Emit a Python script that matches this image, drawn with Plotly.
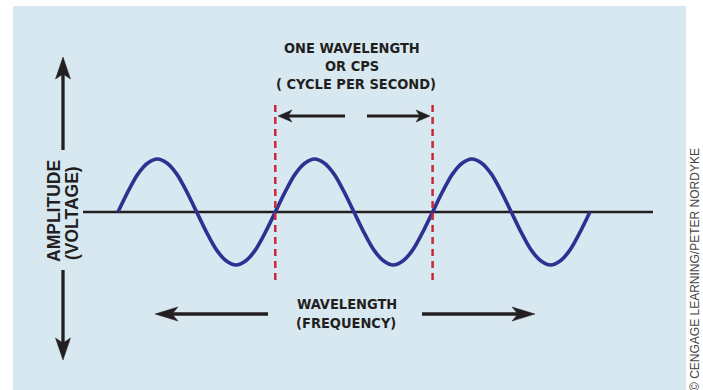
import plotly.graph_objects as go

# wave: phase in cycles, amplitude normalised to the peak
WAVE_X = [0, 0.0625, 0.125, 0.1875, 0.25, 0.3125, 0.375, 0.4375,
          0.5, 0.5625, 0.625, 0.6875, 0.75, 0.8125, 0.875, 0.9375,
          1, 1.0625, 1.125, 1.1875, 1.25, 1.3125, 1.375, 1.4375,
          1.5, 1.5625, 1.625, 1.6875, 1.75, 1.8125, 1.875, 1.9375,
          2, 2.0625, 2.125, 2.1875, 2.25, 2.3125, 2.375, 2.4375,
          2.5, 2.5625, 2.625, 2.6875, 2.75, 2.8125, 2.875, 2.9375, 3]
WAVE_Y = [0, 0.38, 0.71, 0.92, 1, 0.92, 0.71, 0.38,
          0, -0.38, -0.71, -0.92, -1, -0.92, -0.71, -0.38,
          0, 0.38, 0.71, 0.92, 1, 0.92, 0.71, 0.38,
          0, -0.38, -0.71, -0.92, -1, -0.92, -0.71, -0.38,
          0, 0.38, 0.71, 0.92, 1, 0.92, 0.71, 0.38,
          0, -0.38, -0.71, -0.92, -1, -0.92, -0.71, -0.38, 0]
WAVELENGTH_MARKS = [1, 2]  # red dashed lines bracketing one cycle

TOP_LABEL = ["ONE WAVELENGTH", "OR CPS", "( CYCLE PER SECOND)"]
BOTTOM_LABEL = ["WAVELENGTH", "(FREQUENCY)"]
SIDE_LABEL = ["AMPLITUDE", "(VOLTAGE)"]
CREDIT = "© CENGAGE LEARNING/PETER NORDYKE"

W, H = 703, 390
X0_PX, PX_PER_CYCLE = 118, 157.3
Y0_PX, PX_PER_AMP = 212, 53

INK = "#231f20"
WAVE_COLOR = "#2d3192"
DASH_COLOR = "#c9283b"
PANEL_COLOR = "#d8e8f1"
NARROW = "Liberation Sans Narrow, DejaVu Sans Condensed, Arial Narrow, sans-serif"
SANS = "Liberation Sans, Arial, sans-serif"


def px(x):
    return x / W


def py(y):
    return 1 - y / H


def arrow(x0, y0, x1, y1, width, head_len, head_w, notch):
    """line from (x0, y0) with a notched head at (x1, y1), pixel coords"""
    length = ((x1 - x0) ** 2 + (y1 - y0) ** 2) ** 0.5
    ux, uy = (x1 - x0) / length, (y1 - y0) / length
    nx, ny = -uy, ux
    bx, by = x1 - ux * head_len, y1 - uy * head_len
    mx, my = x1 - ux * (head_len - notch), y1 - uy * (head_len - notch)
    pts = [(x1, y1),
           (bx + nx * head_w / 2, by + ny * head_w / 2),
           (mx, my),
           (bx - nx * head_w / 2, by - ny * head_w / 2)]
    path = "M " + " L ".join(f"{px(a):.5f},{py(b):.5f}" for a, b in pts) + " Z"
    return [
        dict(type="line", xref="paper", yref="paper",
             x0=px(x0), y0=py(y0), x1=px(mx), y1=py(my),
             line=dict(color=INK, width=width)),
        dict(type="path", xref="paper", yref="paper", path=path,
             fillcolor=INK, line=dict(color=INK, width=0.5)),
    ]


fig = go.Figure()

fig.add_trace(go.Scatter(
    x=WAVE_X, y=WAVE_Y,
    mode="lines",
    line=dict(color=WAVE_COLOR, width=3.6, shape="spline", smoothing=0.8),
    hoverinfo="skip",
    showlegend=False,
))

shapes = [
    # light blue panel
    dict(type="rect", xref="paper", yref="paper", layer="below",
         x0=px(13), x1=px(686), y0=py(6), y1=py(392),
         fillcolor=PANEL_COLOR, line=dict(width=0)),
    # baseline
    dict(type="line", xref="paper", yref="y", layer="below",
         x0=px(83), x1=px(653), y0=0, y1=0,
         line=dict(color=INK, width=2.6)),
]

for m in WAVELENGTH_MARKS:
    shapes.append(dict(type="line", xref="x", yref="paper",
                       x0=m, x1=m, y0=py(105), y1=py(280),
                       line=dict(color=DASH_COLOR, width=2.5, dash="7px,5px")))

shapes += arrow(63, 150, 63, 57, 3.3, 22, 15, 5)
shapes += arrow(63, 270, 63, 360, 3.3, 22, 15, 5)
shapes += arrow(345, 116, 278, 116, 3.0, 14, 12, 4)
shapes += arrow(367, 116, 430, 116, 3.0, 14, 12, 4)
shapes += arrow(268, 314, 155, 314, 3.3, 23, 14, 6)
shapes += arrow(422, 314, 535, 314, 3.3, 23, 14, 6)

annotations = []
for text, (x, y) in zip(TOP_LABEL, [(352, 48), (352, 66), (356, 84)]):
    annotations.append(dict(text=f"<b>{text}</b>", x=px(x), y=py(y),
                            font=dict(family=NARROW, size=14.5, color=INK)))
for text, (x, y) in zip(BOTTOM_LABEL, [(347, 304), (346, 323)]):
    annotations.append(dict(text=f"<b>{text}</b>", x=px(x), y=py(y),
                            font=dict(family=NARROW, size=14.5, color=INK)))
for text, (x, y) in zip(SIDE_LABEL, [(54, 211), (72, 213)]):
    annotations.append(dict(text=f"<b>{text}</b>", x=px(x), y=py(y),
                            textangle=-90,
                            font=dict(family=SANS, size=17.5, color=INK)))
annotations.append(dict(text=CREDIT, x=px(695), y=py(270), textangle=-90,
                        font=dict(family=SANS, size=12, color="#444444")))

for a in annotations:
    a.update(xref="paper", yref="paper", showarrow=False,
             xanchor="center", yanchor="middle")

fig.update_layout(
    width=W, height=H,
    margin=dict(l=0, r=0, t=0, b=0),
    paper_bgcolor="white",
    plot_bgcolor="rgba(0,0,0,0)",
    showlegend=False,
    shapes=shapes,
    annotations=annotations,
    xaxis=dict(range=[-X0_PX / PX_PER_CYCLE, (W - X0_PX) / PX_PER_CYCLE],
               visible=False, fixedrange=True),
    yaxis=dict(range=[-(H - Y0_PX) / PX_PER_AMP, Y0_PX / PX_PER_AMP],
               visible=False, fixedrange=True),
)

fig.write_html("out.html", config=dict(displayModeBar=False),
               post_script="document.body.style.margin='0';"
                           "document.body.style.overflow='hidden';")
